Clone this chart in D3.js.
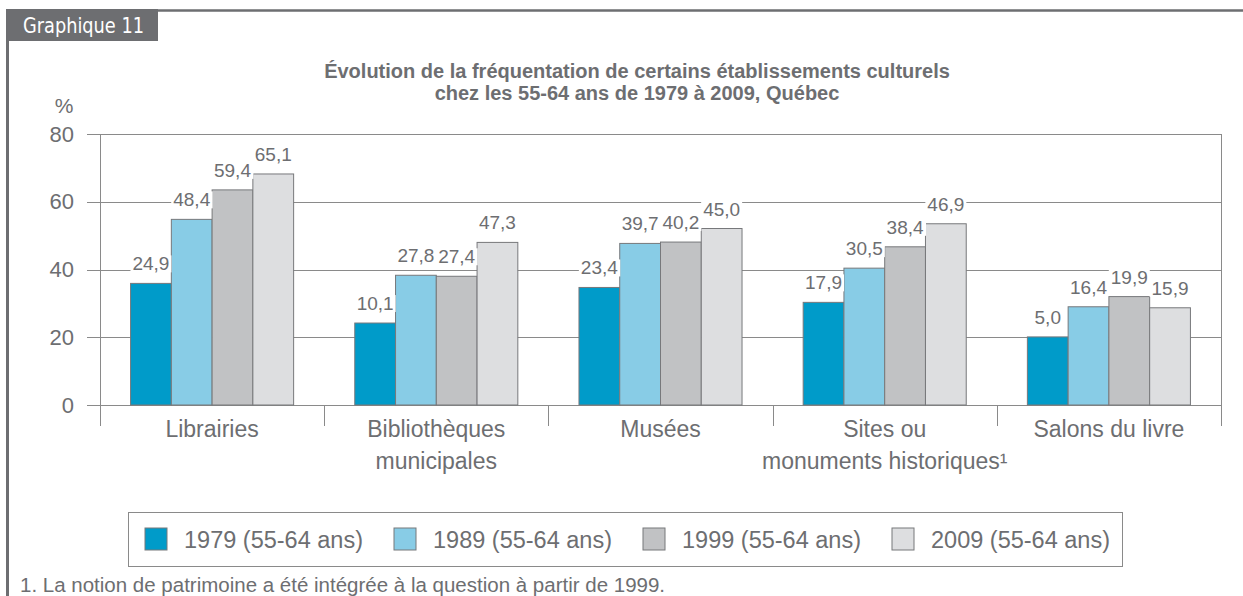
<!DOCTYPE html>
<html>

<head>
  <meta charset='utf-8'>
  <script src='https://d3js.org/d3.v7.min.js'></script>

  <style>
    body {
      margin: 0;
      background: white;
    }

    svg {
      display: block;
      font-family: 'Liberation Sans', Arial, Helvetica, sans-serif;
    }
  </style>
</head>

<body>
  <script type='text/javascript'>
    'use strict';

    /*
      Values
    */
    var categories = ['Librairies', 'Bibliothèques municipales', 'Musées',
      'Sites ou monuments historiques', 'Salons du livre'];
    var categoryLines = [['Librairies'], ['Bibliothèques', 'municipales'], ['Musées'],
      ['Sites ou', 'monuments historiques¹'], ['Salons du livre']];
    var seriesNames = ['1979 (55-64 ans)', '1989 (55-64 ans)', '1999 (55-64 ans)', '2009 (55-64 ans)'];

    // printed values above the bars
    var labels1979 = [24.9, 10.1, 23.4, 17.9, 5.0];
    var labels1989 = [48.4, 27.8, 39.7, 30.5, 16.4];
    var labels1999 = [59.4, 27.4, 40.2, 38.4, 19.9];
    var labels2009 = [65.1, 47.3, 45.0, 46.9, 15.9];

    // bar tops as they stand against the % axis of the original
    var bars1979 = [35.9, 24.2, 34.7, 30.3, 20.1];
    var bars1989 = [54.8, 38.3, 47.7, 40.4, 29.0];
    var bars1999 = [63.5, 38.0, 48.1, 46.7, 32.0];
    var bars2009 = [68.2, 48.0, 52.1, 53.5, 28.7];

    var yTicks = [0, 20, 40, 60, 80];

    var title = ['Évolution de la fréquentation de certains établissements culturels',
      'chez les 55-64 ans de 1979 à 2009, Québec'];
    var note = '1. La notion de patrimoine a été intégrée à la question à partir de 1999.';

    var colors = ['#009bc9', '#88cce6', '#c1c2c4', '#dddee0'];
    var textColor = '#6d6e71';
    var lineColor = '#8a8a8a';

    var labels = [labels1979, labels1989, labels1999, labels2009];
    var bars = [bars1979, bars1989, bars1999, bars2009];

    var rows = [];
    seriesNames.forEach(function(s, i) {
      categories.forEach(function(c, j) {
        rows.push({ series: s, cat: c, bar: bars[i][j], label: labels[i][j], color: colors[i] });
      });
    });

    var width = 1243,
      height = 596;
    var plot = { left: 100, right: 1221, top: 134, bottom: 405 };

    var svg = d3.select('body')
      .append('svg')
      .attr('width', width)
      .attr('height', height);

    /*
      frame and tab
    */
    svg.append('line')
      .attr('x1', 6).attr('x2', width)
      .attr('y1', 10.5).attr('y2', 10.5)
      .attr('stroke', textColor).attr('stroke-width', 2.5);
    svg.append('line')
      .attr('x1', 7.5).attr('x2', 7.5)
      .attr('y1', 9).attr('y2', height)
      .attr('stroke', textColor).attr('stroke-width', 3);
    svg.append('rect')
      .attr('x', 6).attr('y', 9)
      .attr('width', 152).attr('height', 32)
      .attr('fill', textColor);
    svg.append('text')
      .attr('x', 23).attr('y', 33)
      .attr('fill', 'white')
      .style('font-family', "'Liberation Sans Narrow', 'DejaVu Sans Condensed', sans-serif")
      .style('font-size', '21px')
      .attr('textLength', 121)
      .attr('lengthAdjust', 'spacingAndGlyphs')
      .text('Graphique 11');

    /*
      title
    */
    svg.selectAll('.title')
      .data(title)
      .enter()
      .append('text')
      .attr('class', 'title')
      .attr('x', 637)
      .attr('y', function(d, i) { return 78 + i * 22; })
      .attr('text-anchor', 'middle')
      .attr('fill', textColor)
      .style('font-size', '20px')
      .style('font-weight', 'bold')
      .text(function(d) { return d; });

    svg.append('text')
      .attr('x', 64).attr('y', 113)
      .attr('text-anchor', 'middle')
      .attr('fill', textColor)
      .style('font-size', '21px')
      .text('%');

    /*
      scales
    */
    var x0 = d3.scaleBand().domain(categories).range([plot.left, plot.right]);
    var x1 = d3.scaleBand().domain(seriesNames).range([0, x0.bandwidth()]).paddingOuter(0.75);
    var y = d3.scaleLinear().domain([0, 80]).range([plot.bottom, plot.top]);

    // gridlines + y tick labels
    var yAxis = svg.append('g')
      .attr('transform', 'translate(' + plot.right + ',0)')
      .call(d3.axisLeft(y).tickValues(yTicks).tickSize(plot.right - 87).tickPadding(13));
    yAxis.select('.domain').remove();
    yAxis.selectAll('line').attr('stroke', lineColor).attr('shape-rendering', 'crispEdges');
    yAxis.selectAll('text')
      .attr('fill', textColor)
      .style('font-size', '22px')
      .style('font-family', "'Liberation Sans', Arial, sans-serif");

    // vertical lines: plot sides and category separators
    var edges = categories.map(function(c) { return x0(c); }).concat([plot.right]);
    svg.selectAll('.sep')
      .data(edges)
      .enter()
      .append('line')
      .attr('class', 'sep')
      .attr('x1', function(d) { return Math.round(d) + 0.5; })
      .attr('x2', function(d) { return Math.round(d) + 0.5; })
      .attr('y1', function(d, i) { return (i === 0 || i === edges.length - 1) ? plot.top : plot.bottom; })
      .attr('y2', 426)
      .attr('stroke', lineColor);

    /*
      bars
    */
    svg.selectAll('.bar')
      .data(rows)
      .enter()
      .append('rect')
      .attr('class', 'bar')
      .attr('x', function(d) { return x0(d.cat) + x1(d.series); })
      .attr('y', function(d) { return y(d.bar); })
      .attr('width', x1.bandwidth())
      .attr('height', function(d) { return y(0) - y(d.bar); })
      .attr('fill', function(d) { return d.color; })
      .attr('stroke', '#77787b')
      .attr('stroke-width', 1);

    // value labels with a white patch behind them
    var lab = svg.selectAll('.lab')
      .data(rows)
      .enter()
      .append('g')
      .attr('class', 'lab');
    lab.append('text')
      .attr('x', function(d) { return x0(d.cat) + x1(d.series) + x1.bandwidth() / 2; })
      .attr('y', function(d) { return y(d.bar) - 13; })
      .attr('text-anchor', 'middle')
      .attr('fill', textColor)
      .style('font-size', '19px')
      .text(function(d) { return d3.format('.1f')(d.label).replace('.', ','); });
    lab.each(function() {
      var g = d3.select(this);
      var b = g.select('text').node().getBBox();
      g.insert('rect', 'text')
        .attr('x', b.x - 2).attr('y', b.y + 2)
        .attr('width', b.width + 4).attr('height', b.height - 4)
        .attr('fill', 'white');
    });

    /*
      category labels
    */
    var cats = svg.selectAll('.cat')
      .data(categories)
      .enter()
      .append('text')
      .attr('class', 'cat')
      .attr('x', function(d) { return x0(d) + x0.bandwidth() / 2; })
      .attr('y', 437)
      .attr('text-anchor', 'middle')
      .attr('fill', textColor)
      .style('font-size', '23px');
    cats.selectAll('tspan')
      .data(function(d, i) { return categoryLines[i]; })
      .enter()
      .append('tspan')
      .attr('x', function() { var c = d3.select(this.parentNode).datum(); return x0(c) + x0.bandwidth() / 2; })
      .attr('dy', function(d, i) { return i === 0 ? 0 : 32; })
      .text(function(d) { return d; });

    /*
      legend
    */
    svg.append('rect')
      .attr('x', 128.5).attr('y', 512.5)
      .attr('width', 994).attr('height', 54)
      .attr('fill', 'none')
      .attr('stroke', lineColor);
    var leg = svg.selectAll('.leg')
      .data(seriesNames)
      .enter()
      .append('g')
      .attr('class', 'leg')
      .attr('transform', function(d, i) { return 'translate(' + (145 + i * 249) + ',528)'; });
    leg.append('rect')
      .attr('width', 22).attr('height', 22)
      .attr('fill', function(d, i) { return colors[i]; })
      .attr('stroke', '#77787b');
    leg.append('text')
      .attr('x', 39).attr('y', 20)
      .attr('fill', textColor)
      .style('font-size', '23.5px')
      .text(function(d) { return d; });

    /*
      footnote
    */
    svg.append('text')
      .attr('x', 20).attr('y', 592)
      .attr('fill', textColor)
      .style('font-size', '20.5px')
      .text(note);
  </script>
</body>

</html>
